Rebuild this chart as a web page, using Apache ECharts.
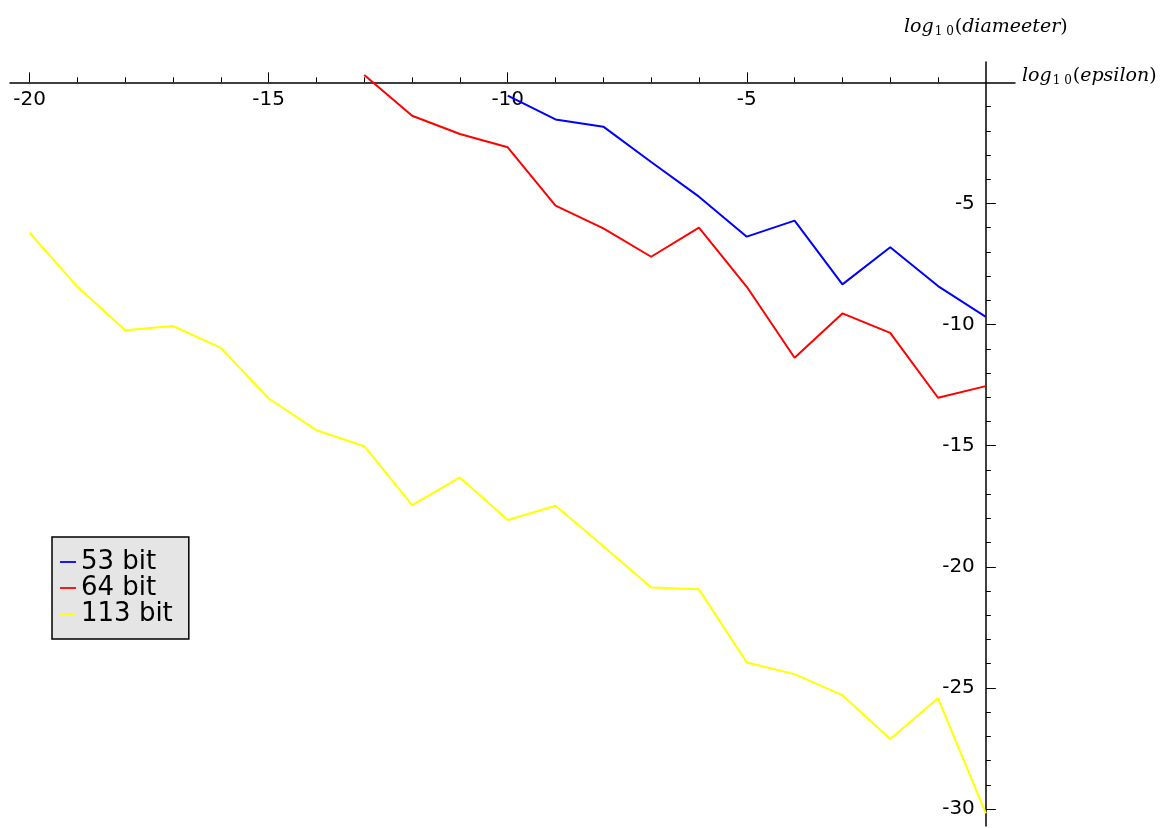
<!DOCTYPE html>
<html>
<head>
<meta charset="utf-8">
<title>log10(diameeter) vs log10(epsilon)</title>
<script src="https://cdn.jsdelivr.net/npm/echarts@6/dist/echarts.min.js"></script>
<style>
  html, body { margin: 0; padding: 0; background: #fff; }
  #chart { width: 1162px; height: 828px; }
</style>
</head>
<body>
<div id="chart"></div>
<script>
// --- Data (log10 epsilon -> log10 diameter) ---
var eps53  = [-10, -9, -8, -7, -6, -5, -4, -3, -2, -1, 0];
var diam53 = [-0.55, -1.53, -1.83, -3.29, -4.72, -6.37, -5.71, -8.34, -6.81, -8.41, -9.68];

var eps64  = [-13, -12, -11, -10, -9, -8, -7, -6, -5, -4, -3, -2, -1, 0];
var diam64 = [0.30, -1.38, -2.13, -2.68, -5.09, -6.03, -7.20, -6.00, -8.44, -11.37, -9.54, -10.34, -13.02, -12.54];

var eps113  = [-20, -19, -18, -17, -16, -15, -14, -13, -12, -11, -10, -9, -8, -7, -6, -5, -4, -3, -2, -1, 0];
var diam113 = [-6.21, -8.44, -10.23, -10.06, -10.96, -13.05, -14.36, -15.02, -17.45, -16.31, -18.07, -17.48,
               -19.15, -20.85, -20.93, -23.95, -24.43, -25.30, -27.11, -25.43, -30.18];

var seriesNames = ['53 bit', '64 bit', '113 bit'];

// tick labels
var xMajor = [-20, -15, -10, -5];
var xMinor = [-19, -18, -17, -16, -14, -13, -12, -11, -9, -8, -7, -6, -4, -3, -2, -1];
var yMajor = [-5, -10, -15, -20, -25, -30];
var yMinor = [-1, -2, -3, -4, -6, -7, -8, -9, -11, -12, -13, -14, -16, -17, -18, -19,
              -21, -22, -23, -24, -26, -27, -28, -29];

// axis extents (axes span the whole axes box and cross at 0,0)
var X_MIN = -20.41, X_MAX = 0.61;
var Y_MIN = -30.7,  Y_MAX = 0.84;

// --- Layout ---
var GRID = { left: 10, top: 62, width: 1005, height: 764 };
// onZero leaves labels at the grid edge in v6, so move the axes with a negative offset instead
var X_AXIS_OFFSET = -GRID.height * Y_MAX / (Y_MAX - Y_MIN);   // from top edge down to y = 0
var Y_AXIS_OFFSET = -GRID.width * (0 - X_MIN) / (X_MAX - X_MIN); // from left edge right to x = 0

var chart = echarts.init(document.getElementById('chart'));

function pairs(xs, ys) {
  var out = [];
  for (var i = 0; i < xs.length; i++) out.push([xs[i], ys[i]]);
  return out;
}

var LABEL_FONT = { color: '#000', fontSize: 20, fontFamily: 'DejaVu Sans' };
var MATH_RICH = {
  i: { fontFamily: 'DejaVu Serif', fontStyle: 'italic', fontSize: 19, color: '#000' },
  p: { fontFamily: 'DejaVu Serif', fontSize: 19, color: '#000' },
  s: { fontFamily: 'DejaVu Serif', fontSize: 12, color: '#000', padding: [10, 1, 0, 1] }
};
var TICK_STYLE = { color: '#000', width: 1 };

function xAxisBase(extra) {
  var a = {
    type: 'value', min: X_MIN, max: X_MAX,
    position: 'top', offset: X_AXIS_OFFSET,
    splitLine: { show: false },
    axisLine: { show: false, onZero: false },
    axisTick: { show: true, inside: false },
    axisLabel: { show: false }
  };
  return Object.assign(a, extra);
}

function yAxisBase(extra) {
  var a = {
    type: 'value', min: Y_MIN, max: Y_MAX,
    position: 'left', offset: Y_AXIS_OFFSET,
    splitLine: { show: false },
    axisLine: { show: false, onZero: false },
    axisTick: { show: true, inside: true },
    axisLabel: { show: false }
  };
  return Object.assign(a, extra);
}

var option = {
  animation: false,
  backgroundColor: '#fff',
  grid: { left: GRID.left, top: GRID.top, width: GRID.width, height: GRID.height, outerBoundsMode: 'none' },
  legend: {
    orient: 'vertical',
    left: 52, top: 537,
    data: seriesNames,
    backgroundColor: '#e5e5e5',
    borderColor: '#000',
    borderWidth: 1.5,
    borderRadius: 0,
    padding: [12, 16, 12, 8],
    itemGap: 0,
    itemWidth: 16,
    itemHeight: 25,
    icon: 'path://M0,12 L16,12 L16,13.8 L0,13.8 Z',
    textStyle: { color: '#000', fontSize: 26, fontFamily: 'DejaVu Sans', lineHeight: 25 }
  },
  xAxis: [
    xAxisBase({
      name: '{i|log}{s|1 0}{p|(}{i|epsilon}{p|)}',
      nameLocation: 'end',
      nameGap: 7,
      nameTextStyle: { rich: MATH_RICH, padding: [0, 0, 12, 0] },
      axisLine: { show: true, onZero: false, lineStyle: { color: '#000', width: 1.5 } },
      axisTick: { show: true, inside: false, length: 10, customValues: xMajor, lineStyle: TICK_STYLE },
      axisLabel: Object.assign({ show: true, inside: true, margin: 7, customValues: xMajor }, LABEL_FONT)
    }),
    xAxisBase({
      axisTick: { show: true, inside: false, length: 5, customValues: xMinor, lineStyle: TICK_STYLE }
    })
  ],
  yAxis: [
    yAxisBase({
      name: '{i|log}{s|1 0}{p|(}{i|diameeter}{p|)}',
      nameLocation: 'end',
      nameGap: 24,
      nameTextStyle: { rich: MATH_RICH },
      axisLine: { show: true, onZero: false, lineStyle: { color: '#000', width: 1.5 } },
      axisTick: { show: true, inside: true, length: 10, customValues: yMajor, lineStyle: TICK_STYLE },
      axisLabel: Object.assign({ show: true, margin: 11, customValues: yMajor }, LABEL_FONT)
    }),
    yAxisBase({
      axisTick: { show: true, inside: true, length: 5, customValues: yMinor, lineStyle: TICK_STYLE }
    })
  ],
  series: [
    { name: seriesNames[0], type: 'line', data: pairs(eps53, diam53), symbol: 'none',
      color: '#0000ff', lineStyle: { color: '#0000ff', width: 2 } },
    { name: seriesNames[1], type: 'line', data: pairs(eps64, diam64), symbol: 'none',
      color: '#ff0000', lineStyle: { color: '#ff0000', width: 2 } },
    { name: seriesNames[2], type: 'line', data: pairs(eps113, diam113), symbol: 'none',
      color: '#ffff00', lineStyle: { color: '#ffff00', width: 2 } }
  ]
};

chart.setOption(option);
</script>
</body>
</html>
